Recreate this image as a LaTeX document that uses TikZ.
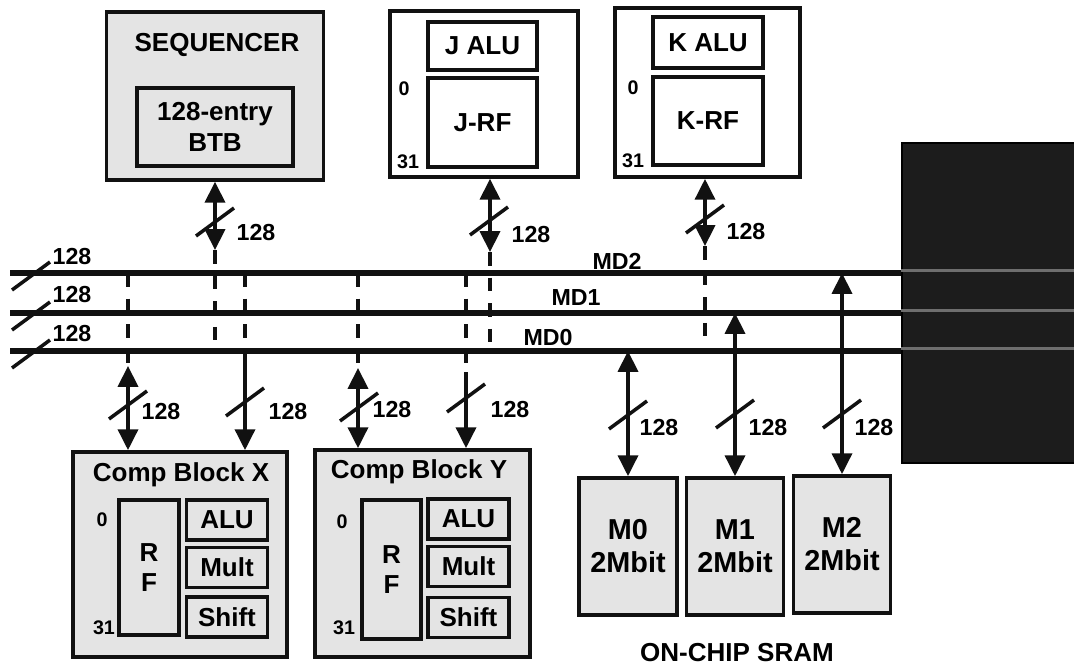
\documentclass[tikz,border=0pt]{standalone}
\usepackage{fontspec}
\setmainfont{Liberation Sans}
\usetikzlibrary{positioning, arrows.meta}
\definecolor{bxFill}{HTML}{E4E4E4}
\definecolor{bxInk}{HTML}{111111}
\definecolor{panelInk}{HTML}{1C1C1C}
\definecolor{streak}{HTML}{6E6E6E}
\tikzset{
  box/.style={draw=bxInk, line width=2.5pt, fill=bxFill, inner sep=0pt,
    font=\fontsize{18.5}{21.5}\selectfont\bfseries, align=center},
  whitebox/.style={box, fill=white},
  unitbox/.style={box, minimum width=2.02cm, minimum height=1cm},
  membox/.style={box, minimum width=2.45cm, minimum height=3.43cm,
    font=\fontsize{20.5}{23.5}\selectfont\bfseries},
  lbl/.style={font=\fontsize{18.5}{21.5}\selectfont\bfseries, inner sep=0pt},
  num/.style={font=\fontsize{16.5}{18}\selectfont\bfseries, inner sep=0pt},
  idx/.style={font=\fontsize{14}{16}\selectfont\bfseries, inner sep=0pt},
  bus/.style={line width=4.6pt, draw=bxInk},
  link/.style={line width=2.5pt, draw=bxInk},
  tap/.style={line width=2.5pt, draw=bxInk, dash pattern=on 0.34cm off 0.3cm},
  busslash/.pic={\draw[line width=2.5pt, bxInk] (-19,14) -- (19,-14);},
}

\begin{document}
\begin{tikzpicture}[x=0.025cm, y=-0.025cm, >={Triangle[length=0.52cm,width=0.5cm]}]
  \useasboundingbox (0,0) rectangle (1074,667);

  % sequencer
  \node[box, minimum width=5.43cm, minimum height=4.2cm] (seq) at (215,96) {};
  \node[lbl] (seqT) at (217,45) {SEQUENCER};
  \node[box, minimum width=3.9cm, minimum height=1.95cm] (btb) at (215,127) {128-entry\\BTB};

  % J and K units
  \node[whitebox, minimum width=4.7cm, minimum height=4.15cm] (jbox) at (484,94) {};
  \node[whitebox, minimum width=2.73cm, minimum height=1.2cm] (jalu) at (482.5,46) {J ALU};
  \node[whitebox, minimum width=2.73cm, minimum height=2.23cm] (jrf) at (482.5,122.5) {J-RF};
  \node[idx] (j0) at (404,89) {0};
  \node[idx] (j31) at (408,162) {31};

  \node[whitebox, minimum width=4.63cm, minimum height=4.23cm] (kbox) at (707.5,92.5) {};
  \node[whitebox, minimum width=2.75cm, minimum height=1.28cm] (kalu) at (708,42.5) {K ALU};
  \node[whitebox, minimum width=2.75cm, minimum height=2.2cm] (krf) at (708,121) {K-RF};
  \node[idx] (k0) at (633,88) {0};
  \node[idx] (k31) at (633,161) {31};

  % outside panel
  \node[draw=black, line width=1pt, fill=panelInk, minimum width=4.35cm, minimum height=8cm,
    inner sep=0pt] (ext) at (989,303) {};

  % buses
  \coordinate (md2L) at (10,273);
  \coordinate (md1L) at (10,313);
  \coordinate (md0L) at (10,351);
  \draw[bus] (md2L) -- (md2L -| ext.west);
  \draw[bus] (md1L) -- (md1L -| ext.west);
  \draw[bus] (md0L) -- (md0L -| ext.west);
  \draw[streak, line width=2pt] ([yshift=0.07cm]ext.west |- md2L) -- ([yshift=0.07cm]ext.east |- md2L);
  \draw[streak, line width=2pt] ([yshift=0.07cm]ext.west |- md1L) -- ([yshift=0.07cm]ext.east |- md1L);
  \draw[streak, line width=2pt] ([yshift=0.07cm]ext.west |- md0L) -- ([yshift=0.07cm]ext.east |- md0L);
  \node[num] (md2T) at (617,261) {MD2};
  \node[num] (md1T) at (576,298) {MD1};
  \node[num] (md0T) at (548,338) {MD0};
  \pic at (31,276) {busslash};
  \pic at (31,316) {busslash};
  \pic at (31,354) {busslash};
  \node[num] (b2w) at (72,257) {128};
  \node[num] (b1w) at (72,295) {128};
  \node[num] (b0w) at (72,334) {128};

  % compute blocks
  \node[box, minimum width=5.35cm, minimum height=5.13cm] (compX) at (180,554.5) {};
  \node[lbl] (compXT) at (181,475) {Comp Block X};
  \node[box, minimum width=1.5cm, minimum height=3.38cm] (rfX) at (149,567.5) {R\\F};
  \node[unitbox] (aluX) at (227,520) {ALU};
  \node[unitbox] (multX) at (227,567.5) {Mult};
  \node[unitbox] (shiftX) at (227,617) {Shift};
  \node[idx] (x0) at (102,520) {0};
  \node[idx] (x31) at (104,628) {31};

  \node[box, minimum width=5.38cm, minimum height=5.18cm] (compY) at (422.5,553.5) {};
  \node[lbl] (compYT) at (419,472) {Comp Block Y};
  \node[box, minimum width=1.48cm, minimum height=3.48cm] (rfY) at (391.5,569.5) {R\\F};
  \node[unitbox] (aluY) at (468.5,519) {ALU};
  \node[unitbox] (multY) at (468.5,566.5) {Mult};
  \node[unitbox] (shiftY) at (468.5,617.5) {Shift};
  \node[idx] (y0) at (342,522) {0};
  \node[idx] (y31) at (344,628) {31};

  % on-chip memories
  \node[membox] (m0) at (628,546.5) {M0\\2Mbit};
  \node[membox, minimum width=2.43cm] (m1) at (735,546.5) {M1\\2Mbit};
  \node[membox, minimum width=2.43cm] (m2) at (842,544.5) {M2\\2Mbit};
  \node[lbl] (sram) at (737,653) {ON-CHIP SRAM};

  % connectors to the buses
  \coordinate (seqP) at (215,250);
  \draw[link, <->] (seq.south) -- (seqP);
  \draw[tap] (seqP) -- (seqP |- md0L);
  \coordinate (jP) at (490,252);
  \draw[link, <->] (jP |- jbox.south) -- (jP);
  \draw[tap] (jP) -- (jP |- md0L);
  \coordinate (kP) at (705,246);
  \draw[link, <->] (kP |- kbox.south) -- (kP);
  \draw[tap] (kP) -- (kP |- md0L);

  \coordinate (xlP) at (128,366);
  \draw[tap] (xlP |- md2L) -- (xlP);
  \draw[link, <->] (xlP) -- (xlP |- compX.north);
  \coordinate (xrP) at (245,351);
  \draw[tap] (xrP |- md2L) -- (xrP);
  \draw[link, ->] (xrP) -- (xrP |- compX.north);
  \coordinate (ylP) at (358,368);
  \draw[tap] (ylP |- md2L) -- (ylP);
  \draw[link, <->] (ylP) -- (ylP |- compY.north);
  \coordinate (yrP) at (466,372);
  \draw[tap] (yrP |- md2L) -- (yrP);
  \draw[link, ->] (yrP) -- (yrP |- compY.north);

  \draw[link, <->] (m0.north |- md0L) -- (m0.north);
  \draw[link, <->] (m1.north |- md1L) -- (m1.north);
  \draw[link, <->] (m2.north |- md2L) -- (m2.north);

  % width marks
  \pic at (215,222) {busslash};
  \pic at (489,221) {busslash};
  \pic at (705,219) {busslash};
  \pic at (128,405) {busslash};
  \pic at (245,402) {busslash};
  \pic at (359,407) {busslash};
  \pic at (466,398) {busslash};
  \pic at (628,415) {busslash};
  \pic at (735,414) {busslash};
  \pic at (842,414) {busslash};
  \node[num] (wSeq) at (256,233) {128};
  \node[num] (wJ) at (531,235) {128};
  \node[num] (wK) at (746,232) {128};
  \node[num] (wXl) at (161,412) {128};
  \node[num] (wXr) at (288,412) {128};
  \node[num] (wYl) at (392,410) {128};
  \node[num] (wYr) at (510,410) {128};
  \node[num] (wM0) at (659,428) {128};
  \node[num] (wM1) at (768,428) {128};
  \node[num] (wM2) at (874,428) {128};
\end{tikzpicture}
\end{document}
